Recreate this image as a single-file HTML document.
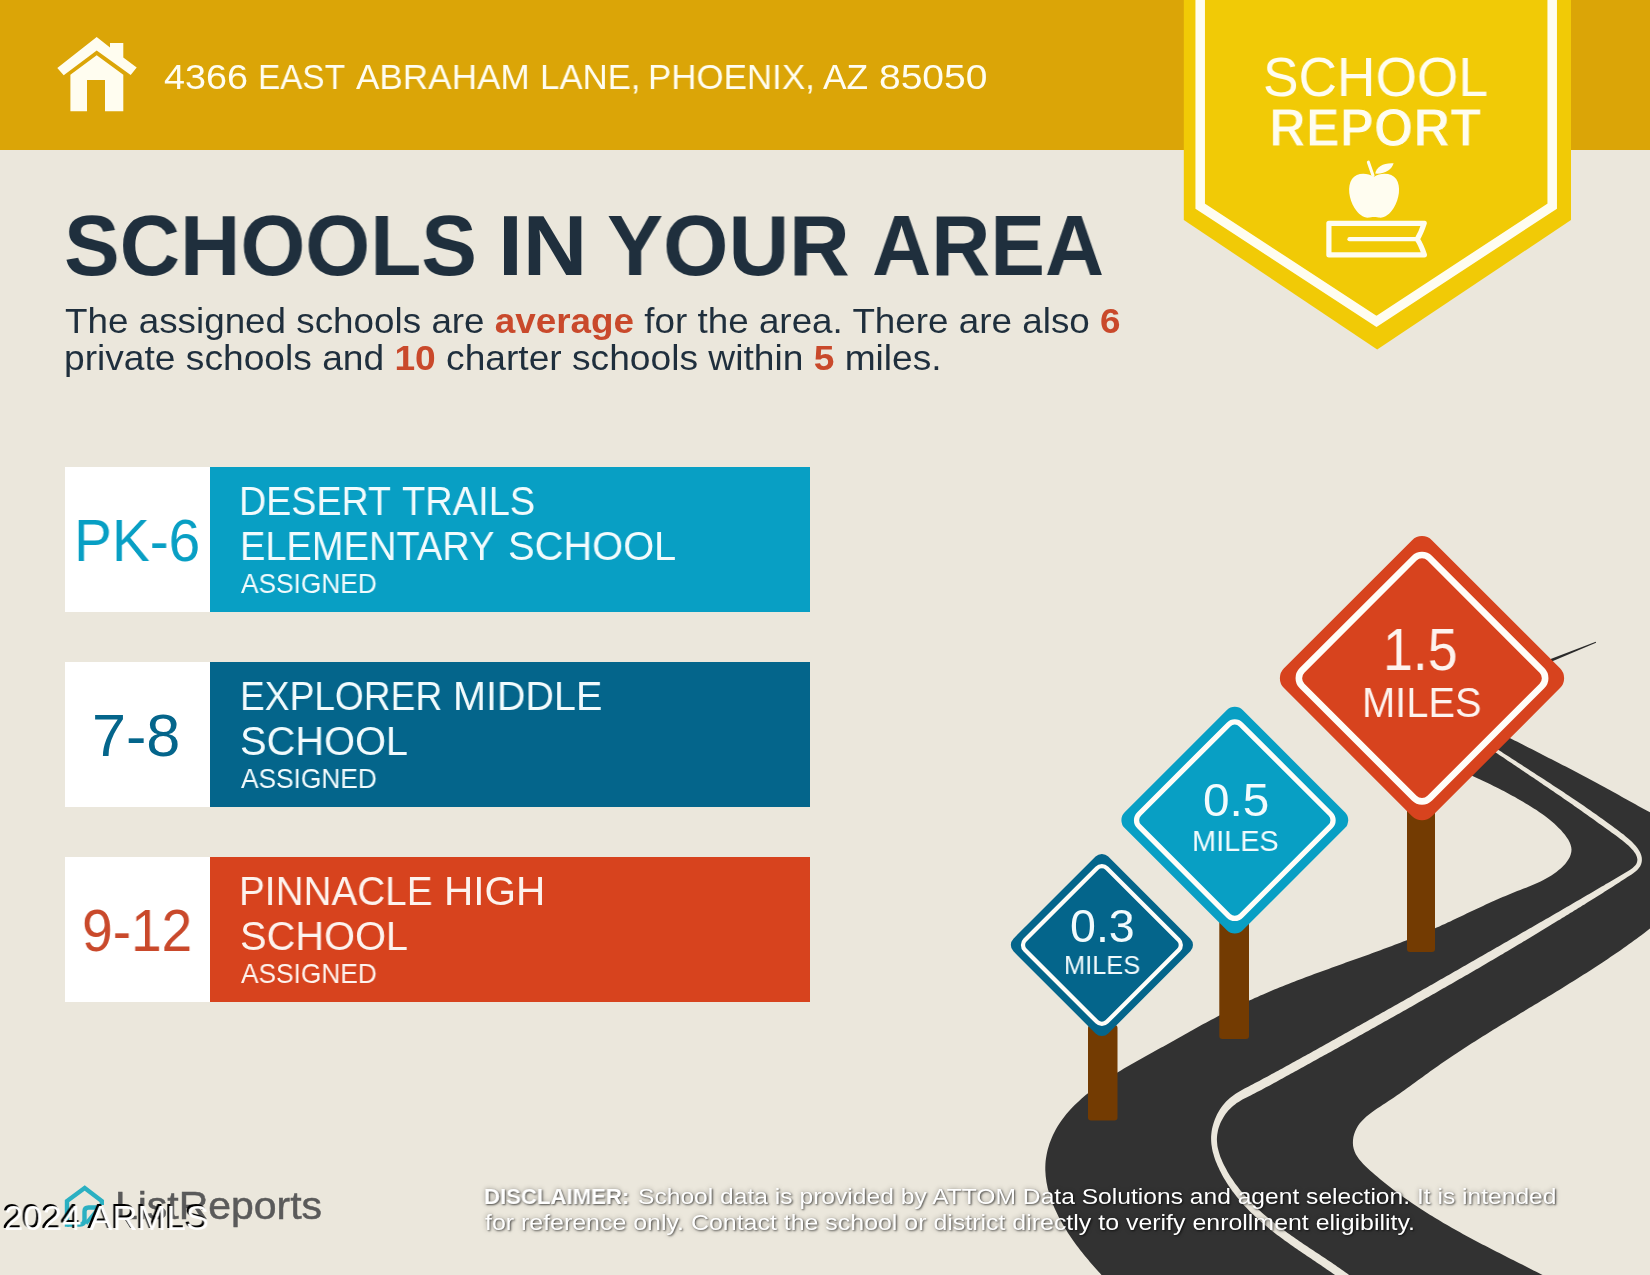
<!DOCTYPE html>
<html><head><meta charset="utf-8"><title>School Report</title>
<style>
html,body{margin:0;padding:0;}
body{width:1650px;height:1275px;overflow:hidden;background:#ebe7dc;position:relative;font-family:"Liberation Sans", sans-serif;}
.t{position:absolute;white-space:nowrap;line-height:1;transform-origin:0 0;font-family:"Liberation Sans", sans-serif;will-change:transform;}
svg{position:absolute;left:0;top:0;}
b{font-weight:700}
</style></head><body>
<svg width="1650" height="1275" viewBox="0 0 1650 1275">
<rect width="1650" height="1275" fill="#ebe7dc"/>
<rect width="1650" height="150" fill="#dba507"/>
<polygon points="1183.8,0 1571,0 1571,220 1377.2,349.5 1183.8,220" fill="#f1ca06"/>
<polyline points="1200.2,-5 1200.2,206.2 1376.5,321.4 1552.2,206.2 1552.2,-5" fill="none" stroke="#fffdf0" stroke-width="9.5" stroke-linejoin="miter"/>
<g fill="#fffdf0"><polygon points="96.7,37 110,47.5 110,43 123.3,43 123.3,57.5 136.7,67.5 130.7,75 96.7,50.4 63.7,75.3 57.3,68"/><path d="M96.7,55.3 L123.3,74.7 L123.3,111.3 L105,111.3 L105,80 L87,80 L87,111.3 L70.4,111.3 L70.4,74.7 Z"/></g>
<g fill="#fffdf0"><path d="M1373.8,177 C1367,172.3 1356.5,172.5 1352,179 C1347,186.5 1349,199 1354.5,208 C1358.5,214.5 1364.5,218.6 1369.5,217.6 C1372,217.1 1373,217 1374.1,217 C1375.2,217 1376.2,217.1 1378.7,217.6 C1383.7,218.6 1389.7,214.5 1393.7,208 C1399.2,199 1401.2,186.5 1396.2,179 C1391.7,172.5 1380.6,172.3 1373.8,177 Z"/><path d="M1375.2,173.6 C1376.5,166.5 1384,162.6 1393.6,163.3 C1392,169.5 1385.5,174.2 1375.2,173.6 Z"/></g><path d="M1373,175.5 L1368.4,162.2" stroke="#fffdf0" stroke-width="3.1" stroke-linecap="round" fill="none"/><path d="M1424.2,223.3 L1328.9,223.3 L1328.9,254.8 L1424.4,254.8 Q1421,245 1417.3,239.2 Q1421,233 1424.2,223.3 Z" fill="none" stroke="#fffdf0" stroke-width="5.2" stroke-linejoin="round"/><path d="M1349.5,239.2 L1417,239.2" stroke="#fffdf0" stroke-width="4.3" stroke-linecap="round"/>
<rect x="65" y="467" width="145" height="145" fill="#ffffff"/>
<rect x="210" y="467" width="600" height="145" fill="#089fc4"/>
<rect x="65" y="662" width="145" height="145" fill="#ffffff"/>
<rect x="210" y="662" width="600" height="145" fill="#04658b"/>
<rect x="65" y="857" width="145" height="145" fill="#ffffff"/>
<rect x="210" y="857" width="600" height="145" fill="#d7431e"/>
<polygon points="1550,659.3 1595.8,641.7 1596,642.8 1550,662.2" fill="#2a2a2a"/>
<path d="M1426.7,757.3 1429.7,758.4 1432.6,759.6 1435.6,760.7 1438.5,761.9 1441.4,763.0 1444.3,764.2 1447.1,765.3 1449.9,766.5 1452.8,767.6 1455.6,768.8 1458.3,769.9 1461.1,771.1 1463.9,772.3 1466.6,773.5 1469.3,774.6 1472.0,775.8 1474.7,777.0 1477.4,778.3 1480.1,779.5 1482.8,780.8 1485.5,782.0 1488.2,783.3 1490.8,784.6 1493.5,785.9 1496.2,787.2 1498.8,788.6 1501.5,790.0 1504.2,791.3 1506.9,792.8 1509.5,794.2 1512.2,795.7 1514.9,797.1 1517.6,798.7 1520.3,800.2 1523.0,801.8 1525.7,803.4 1528.4,805.0 1531.1,806.7 1533.8,808.4 1536.5,810.1 1539.1,811.9 1541.8,813.7 1544.3,815.6 1546.9,817.5 1549.4,819.5 1551.8,821.5 1554.2,823.6 1556.5,825.7 1558.7,827.9 1560.9,830.1 1562.9,832.4 1564.9,834.8 1566.6,837.2 1568.2,839.6 1569.5,842.1 1570.5,844.5 1571.2,847.0 1571.5,849.5 1571.3,852.0 1570.7,854.5 1569.8,856.9 1568.5,859.3 1567.0,861.6 1565.2,863.9 1563.2,866.1 1561.0,868.2 1558.7,870.1 1556.4,872.0 1553.9,873.8 1551.4,875.5 1548.8,877.1 1546.1,878.6 1543.4,880.0 1540.6,881.4 1537.8,882.7 1534.9,884.0 1532.0,885.3 1529.0,886.5 1526.1,887.7 1523.1,888.8 1520.2,890.0 1517.2,891.1 1514.3,892.3 1511.3,893.5 1508.4,894.7 1505.5,895.9 1502.7,897.1 1499.8,898.3 1497.0,899.6 1494.2,900.8 1491.3,902.1 1488.6,903.3 1485.8,904.6 1483.0,905.9 1480.3,907.2 1477.5,908.5 1474.8,909.7 1472.0,911.0 1469.3,912.3 1466.6,913.6 1463.9,914.9 1461.2,916.2 1458.4,917.5 1455.7,918.8 1453.0,920.1 1450.3,921.4 1447.6,922.6 1444.9,923.9 1442.1,925.1 1439.4,926.4 1436.7,927.6 1433.9,928.8 1431.2,930.1 1428.4,931.3 1425.6,932.4 1422.9,933.6 1420.1,934.8 1417.3,935.9 1414.5,937.1 1411.7,938.2 1408.9,939.3 1406.1,940.4 1403.2,941.6 1400.4,942.7 1397.6,943.7 1394.7,944.8 1391.9,945.9 1389.0,947.0 1386.2,948.1 1383.3,949.1 1380.5,950.2 1377.6,951.2 1374.7,952.3 1371.9,953.3 1369.0,954.4 1366.1,955.4 1363.2,956.4 1360.4,957.5 1357.5,958.5 1354.6,959.5 1351.7,960.6 1348.8,961.6 1345.9,962.6 1343.0,963.7 1340.2,964.7 1337.3,965.7 1334.4,966.8 1331.5,967.8 1328.6,968.9 1325.7,969.9 1322.8,970.9 1320.0,972.0 1317.1,973.0 1314.2,974.1 1311.3,975.2 1308.5,976.2 1305.6,977.3 1302.7,978.4 1299.9,979.5 1297.0,980.6 1294.1,981.7 1291.3,982.8 1288.4,983.9 1285.6,985.0 1282.8,986.2 1279.9,987.3 1277.1,988.5 1274.3,989.6 1271.5,990.8 1268.7,992.0 1265.9,993.2 1263.1,994.4 1260.3,995.6 1257.5,996.9 1254.7,998.1 1251.9,999.4 1249.2,1000.6 1246.4,1001.9 1243.7,1003.2 1241.0,1004.6 1238.2,1005.9 1235.5,1007.2 1232.8,1008.6 1230.1,1010.0 1227.4,1011.3 1224.7,1012.7 1222.0,1014.1 1219.3,1015.5 1216.6,1016.9 1214.0,1018.4 1211.3,1019.8 1208.6,1021.2 1206.0,1022.7 1203.3,1024.1 1200.6,1025.6 1198.0,1027.1 1195.3,1028.5 1192.7,1030.0 1190.0,1031.5 1187.4,1033.0 1184.7,1034.5 1182.1,1035.9 1179.4,1037.4 1176.7,1038.9 1174.1,1040.4 1171.4,1041.9 1168.8,1043.4 1166.1,1044.9 1163.5,1046.4 1160.8,1047.8 1158.1,1049.3 1155.4,1050.8 1152.8,1052.3 1150.1,1053.8 1147.4,1055.2 1144.7,1056.7 1142.1,1058.2 1139.4,1059.7 1136.7,1061.2 1134.1,1062.7 1131.4,1064.2 1128.8,1065.8 1126.1,1067.3 1123.5,1068.8 1120.9,1070.4 1118.3,1072.0 1115.7,1073.6 1113.1,1075.2 1110.5,1076.9 1108.0,1078.5 1105.5,1080.2 1102.9,1082.0 1100.5,1083.7 1098.0,1085.5 1095.5,1087.3 1093.1,1089.1 1090.7,1091.0 1088.3,1092.9 1086.0,1094.8 1083.7,1096.8 1081.4,1098.8 1079.1,1100.9 1076.9,1103.0 1074.7,1105.1 1072.5,1107.3 1070.4,1109.5 1068.4,1111.8 1066.4,1114.1 1064.5,1116.5 1062.6,1118.9 1060.8,1121.4 1059.1,1124.0 1057.5,1126.6 1055.9,1129.3 1054.5,1132.0 1053.1,1134.8 1051.9,1137.6 1050.7,1140.5 1049.6,1143.3 1048.7,1146.3 1047.8,1149.2 1047.1,1152.2 1046.5,1155.2 1046.0,1158.2 1045.6,1161.2 1045.4,1164.2 1045.3,1167.2 1045.3,1170.2 1045.5,1173.3 1045.7,1176.3 1046.1,1179.3 1046.5,1182.2 1047.1,1185.2 1047.7,1188.2 1048.5,1191.1 1049.3,1194.1 1050.3,1197.0 1051.3,1199.9 1052.3,1202.8 1053.5,1205.7 1054.7,1208.5 1056.0,1211.3 1057.3,1214.1 1058.7,1216.9 1060.2,1219.6 1061.7,1222.3 1063.2,1225.0 1064.8,1227.7 1066.4,1230.3 1068.0,1232.9 1069.7,1235.4 1071.4,1237.9 1073.1,1240.4 1074.9,1242.9 1076.7,1245.4 1078.5,1247.8 1080.3,1250.2 1082.2,1252.6 1084.1,1254.9 1086.0,1257.3 1088.0,1259.6 1089.9,1261.9 1091.9,1264.2 1093.9,1266.5 1095.9,1268.8 1097.9,1271.0 1100.0,1273.3 1102.0,1275.5 1104.1,1277.8 1106.1,1280.0 1108.2,1282.2 1110.3,1284.4 1112.4,1286.7 1114.5,1288.9 1116.6,1291.1 1118.7,1293.3 1120.8,1295.6 1122.9,1297.8 1125.0,1300.0 L1589.8,1300.5 1587.0,1298.9 1584.2,1297.3 1581.4,1295.8 1578.6,1294.2 1575.8,1292.7 1573.0,1291.1 1570.2,1289.6 1567.4,1288.1 1564.6,1286.6 1561.8,1285.0 1559.0,1283.6 1556.2,1282.1 1553.3,1280.6 1550.5,1279.1 1547.7,1277.6 1544.9,1276.2 1542.0,1274.7 1539.2,1273.3 1536.3,1271.8 1533.5,1270.4 1530.7,1268.9 1527.8,1267.5 1525.0,1266.1 1522.1,1264.6 1519.3,1263.2 1516.4,1261.7 1513.6,1260.3 1510.8,1258.9 1507.9,1257.4 1505.1,1256.0 1502.2,1254.6 1499.4,1253.1 1496.6,1251.7 1493.7,1250.2 1490.9,1248.8 1488.1,1247.3 1485.3,1245.8 1482.4,1244.4 1479.6,1242.9 1476.8,1241.4 1474.0,1239.9 1471.2,1238.4 1468.4,1236.9 1465.6,1235.4 1462.8,1233.9 1460.0,1232.3 1457.2,1230.8 1454.5,1229.2 1451.7,1227.7 1448.9,1226.1 1446.2,1224.5 1443.4,1222.9 1440.7,1221.3 1437.9,1219.6 1435.2,1218.0 1432.5,1216.3 1429.8,1214.7 1427.1,1213.0 1424.4,1211.3 1421.7,1209.5 1419.0,1207.8 1416.4,1206.0 1413.7,1204.2 1411.1,1202.4 1408.4,1200.6 1405.8,1198.8 1403.2,1196.9 1400.6,1195.0 1398.0,1193.1 1395.4,1191.2 1392.8,1189.3 1390.3,1187.3 1387.7,1185.3 1385.2,1183.3 1382.7,1181.3 1380.2,1179.2 1377.7,1177.1 1375.2,1175.0 1372.7,1172.8 1370.3,1170.7 1367.9,1168.5 1365.5,1166.2 1363.2,1163.9 1361.1,1161.6 1359.1,1159.2 1357.4,1156.7 1355.8,1154.2 1354.6,1151.5 1353.7,1148.8 1353.1,1145.9 1352.9,1143.0 1353.0,1140.0 1353.4,1137.1 1354.2,1134.1 1355.2,1131.2 1356.5,1128.5 1358.0,1125.8 1359.8,1123.3 1361.9,1120.9 1364.1,1118.7 1366.4,1116.5 1369.0,1114.4 1371.6,1112.4 1374.3,1110.4 1377.1,1108.5 1380.0,1106.7 1382.8,1104.8 1385.7,1103.0 1388.5,1101.1 1391.3,1099.3 1394.0,1097.4 1396.7,1095.6 1399.4,1093.7 1402.1,1091.8 1404.7,1089.9 1407.3,1088.1 1409.9,1086.2 1412.5,1084.3 1415.0,1082.5 1417.6,1080.6 1420.1,1078.7 1422.7,1076.9 1425.2,1075.0 1427.8,1073.2 1430.3,1071.3 1432.9,1069.5 1435.4,1067.7 1438.0,1065.9 1440.6,1064.1 1443.2,1062.3 1445.8,1060.5 1448.4,1058.7 1451.0,1057.0 1453.6,1055.2 1456.3,1053.5 1458.9,1051.7 1461.6,1050.0 1464.2,1048.3 1466.9,1046.5 1469.5,1044.8 1472.2,1043.1 1474.9,1041.4 1477.5,1039.7 1480.2,1038.0 1482.9,1036.3 1485.6,1034.7 1488.3,1033.0 1491.0,1031.3 1493.7,1029.6 1496.4,1028.0 1499.1,1026.3 1501.9,1024.6 1504.6,1023.0 1507.3,1021.3 1510.0,1019.7 1512.8,1018.0 1515.5,1016.4 1518.2,1014.7 1520.9,1013.1 1523.7,1011.4 1526.4,1009.8 1529.1,1008.1 1531.9,1006.5 1534.6,1004.8 1537.4,1003.2 1540.1,1001.5 1542.8,999.8 1545.6,998.2 1548.3,996.5 1551.0,994.9 1553.8,993.2 1556.5,991.5 1559.2,989.9 1562.0,988.2 1564.7,986.5 1567.4,984.8 1570.1,983.1 1572.8,981.5 1575.6,979.8 1578.3,978.1 1581.0,976.3 1583.7,974.6 1586.4,972.9 1589.1,971.2 1591.8,969.5 1594.4,967.7 1597.1,966.0 1599.8,964.2 1602.5,962.5 1605.1,960.7 1607.8,958.9 1610.4,957.1 1613.1,955.3 1615.7,953.5 1618.4,951.7 1621.0,949.9 1623.6,948.0 1626.2,946.2 1628.8,944.3 1631.4,942.5 1634.0,940.6 1636.6,938.7 1639.2,936.8 1641.7,934.9 1644.3,932.9 1646.8,931.0 1649.3,929.1 1651.9,927.1 1654.4,925.1 1656.9,923.1 1659.4,921.1 1661.9,919.1 1664.3,917.0 1666.8,915.0 1669.2,912.9 1671.7,910.8 1674.1,908.7 1676.5,906.6 1678.9,904.5 1681.3,902.3 1683.7,900.2 1686.0,898.0 1688.3,895.8 1690.6,893.5 1692.7,891.2 1694.7,888.9 1696.6,886.5 1698.2,884.0 1699.6,881.4 1700.8,878.8 1701.6,876.0 1702.2,873.2 1702.4,870.2 1702.3,867.1 1701.8,864.0 1701.1,860.8 1700.1,857.6 1698.9,854.5 1697.5,851.3 1695.8,848.3 1694.0,845.3 1692.0,842.4 1689.9,839.7 1687.7,837.2 1685.3,834.8 1682.9,832.5 1680.4,830.4 1677.8,828.4 1675.1,826.4 1672.4,824.6 1669.6,822.9 1666.8,821.2 1663.9,819.6 1661.0,818.0 1658.1,816.5 1655.2,814.9 1652.4,813.4 1649.5,811.9 1646.6,810.4 1643.8,808.9 1641.0,807.4 1638.2,805.9 1635.4,804.3 1632.6,802.8 1629.8,801.3 1627.1,799.7 1624.3,798.2 1621.6,796.7 1618.8,795.1 1616.1,793.6 1613.3,792.1 1610.6,790.5 1607.8,789.0 1605.1,787.5 1602.3,786.0 1599.5,784.5 1596.8,783.0 1594.0,781.5 1591.2,780.0 1588.4,778.5 1585.6,777.0 1582.7,775.5 1579.9,774.0 1577.1,772.5 1574.3,771.1 1571.5,769.6 1568.6,768.1 1565.8,766.6 1562.9,765.2 1560.1,763.7 1557.3,762.3 1554.4,760.8 1551.6,759.3 1548.7,757.9 1545.9,756.4 1543.0,755.0 1540.2,753.5 1537.3,752.1 1534.5,750.6 1531.6,749.1 1528.8,747.7 1525.9,746.2 1523.1,744.8 1520.2,743.3 1517.4,741.8 1514.5,740.4 1511.7,738.9 1508.9,737.4 1506.0,736.0 1503.2,734.5 1500.4,733.0 1497.6,731.5 1494.8,730.0 1492.0,728.6 1489.2,727.1 1486.4,725.6 1483.6,724.1 1480.8,722.6 1478.0,721.0 Z" fill="#323232"/>
<path d="M1466.2,732.4 1468.1,733.7 1470.0,735.0 1471.8,736.3 1473.7,737.6 1475.7,738.9 1477.6,740.2 1479.5,741.5 1481.5,742.8 1483.4,744.2 1485.4,745.5 1487.4,746.8 1489.3,748.2 1491.3,749.5 1493.3,750.9 1495.3,752.2 1497.3,753.6 1499.3,754.9 1501.3,756.3 1503.4,757.6 1505.4,759.0 1507.4,760.4 1509.4,761.7 1511.5,763.1 1513.5,764.4 1515.5,765.8 1517.6,767.2 1519.6,768.6 1521.6,769.9 1523.6,771.3 1525.7,772.7 1527.7,774.0 1529.7,775.4 1531.7,776.7 1533.8,778.1 1535.8,779.5 1537.8,780.8 1539.8,782.2 1541.8,783.5 1543.7,784.9 1545.7,786.2 1547.7,787.6 1549.7,788.9 1551.6,790.2 1553.6,791.6 1555.5,792.9 1557.4,794.2 1559.4,795.5 1561.3,796.8 1563.2,798.2 1565.0,799.5 1566.9,800.8 1568.8,802.0 1570.6,803.3 1572.5,804.6 1574.3,805.9 1576.2,807.2 1578.0,808.5 1579.9,809.8 1581.7,811.1 1583.6,812.4 1585.4,813.7 1587.3,815.1 1589.2,816.4 1591.1,817.8 1593.0,819.1 1595.0,820.5 1596.9,821.9 1598.9,823.4 1600.9,824.8 1603.0,826.3 1605.0,827.8 1607.1,829.3 1609.3,830.8 1611.5,832.4 1613.7,834.0 1615.9,835.6 1618.1,837.2 1620.3,838.9 1622.4,840.5 1624.5,842.2 1626.5,843.9 1628.4,845.5 1630.1,847.2 1631.7,848.9 1633.2,850.6 1634.4,852.2 1635.5,853.8 1636.3,855.4 1636.9,856.9 1637.2,858.4 1637.4,859.8 1637.2,861.2 1636.9,862.6 1636.3,864.0 1635.4,865.3 1634.1,866.6 1632.6,867.9 1630.9,869.2 1629.0,870.4 1626.9,871.7 1624.8,873.0 1622.7,874.2 1620.6,875.5 1618.5,876.7 1616.4,878.0 1614.3,879.2 1612.2,880.4 1610.1,881.7 1608.0,882.9 1605.9,884.1 1603.9,885.4 1601.8,886.6 1599.7,887.8 1597.6,889.0 1595.5,890.2 1593.5,891.4 1591.4,892.7 1589.3,893.9 1587.3,895.1 1585.2,896.3 1583.1,897.5 1581.1,898.7 1579.0,899.9 1577.0,901.1 1574.9,902.3 1572.8,903.5 1570.8,904.7 1568.7,905.9 1566.7,907.1 1564.6,908.3 1562.5,909.5 1560.5,910.7 1558.4,911.9 1556.4,913.1 1554.3,914.3 1552.2,915.5 1550.2,916.7 1548.1,917.9 1546.0,919.1 1544.0,920.3 1541.9,921.5 1539.9,922.6 1537.8,923.8 1535.7,925.0 1533.6,926.2 1531.6,927.4 1529.5,928.6 1527.4,929.8 1525.4,931.0 1523.3,932.1 1521.2,933.3 1519.2,934.5 1517.1,935.7 1515.0,936.9 1513.0,938.1 1510.9,939.3 1508.8,940.5 1506.8,941.7 1504.7,942.8 1502.6,944.0 1500.6,945.2 1498.5,946.4 1496.4,947.6 1494.4,948.8 1492.3,950.0 1490.2,951.2 1488.1,952.3 1486.1,953.5 1484.0,954.7 1481.9,955.9 1479.9,957.1 1477.8,958.3 1475.7,959.5 1473.6,960.7 1471.6,961.8 1469.5,963.0 1467.4,964.2 1465.4,965.4 1463.3,966.6 1461.2,967.8 1459.2,969.0 1457.1,970.2 1455.0,971.3 1452.9,972.5 1450.9,973.7 1448.8,974.9 1446.7,976.1 1444.7,977.3 1442.6,978.5 1440.5,979.6 1438.4,980.8 1436.4,982.0 1434.3,983.2 1432.2,984.4 1430.1,985.6 1428.1,986.7 1426.0,987.9 1423.9,989.1 1421.8,990.3 1419.8,991.5 1417.7,992.6 1415.6,993.8 1413.5,995.0 1411.5,996.2 1409.4,997.4 1407.3,998.5 1405.2,999.7 1403.2,1000.9 1401.1,1002.1 1399.0,1003.2 1396.9,1004.4 1394.9,1005.6 1392.8,1006.7 1390.7,1007.9 1388.6,1009.1 1386.5,1010.3 1384.5,1011.4 1382.4,1012.6 1380.3,1013.8 1378.2,1014.9 1376.1,1016.1 1374.1,1017.3 1372.0,1018.4 1369.9,1019.6 1367.8,1020.8 1365.7,1021.9 1363.7,1023.1 1361.6,1024.3 1359.5,1025.4 1357.4,1026.6 1355.3,1027.8 1353.2,1028.9 1351.2,1030.1 1349.1,1031.3 1347.0,1032.4 1344.9,1033.6 1342.8,1034.8 1340.7,1035.9 1338.7,1037.1 1336.6,1038.2 1334.5,1039.4 1332.4,1040.6 1330.3,1041.7 1328.2,1042.9 1326.2,1044.1 1324.1,1045.2 1322.0,1046.4 1319.9,1047.6 1317.8,1048.7 1315.7,1049.9 1313.6,1051.0 1311.6,1052.2 1309.5,1053.4 1307.4,1054.5 1305.3,1055.7 1303.2,1056.8 1301.1,1058.0 1299.0,1059.2 1296.9,1060.3 1294.8,1061.5 1292.8,1062.6 1290.7,1063.8 1288.6,1064.9 1286.5,1066.1 1284.4,1067.2 1282.3,1068.4 1280.2,1069.5 1278.1,1070.7 1276.0,1071.8 1273.9,1073.0 1271.8,1074.1 1269.7,1075.2 1267.6,1076.4 1265.5,1077.5 1263.4,1078.6 1261.3,1079.7 1259.2,1080.9 1257.1,1082.0 1255.0,1083.1 1252.9,1084.2 1250.8,1085.3 1248.7,1086.4 1246.6,1087.5 1244.5,1088.6 1242.4,1089.8 1240.2,1091.0 1238.1,1092.2 1236.0,1093.5 1233.9,1094.9 1231.9,1096.4 1229.9,1098.0 1228.0,1099.7 1226.1,1101.6 1224.4,1103.5 1222.7,1105.5 1221.2,1107.6 1219.7,1109.8 1218.4,1112.0 1217.1,1114.3 1216.0,1116.7 1215.0,1119.1 1214.1,1121.5 1213.3,1124.0 1212.6,1126.5 1212.0,1129.1 1211.6,1131.6 1211.3,1134.2 1211.1,1136.7 1211.1,1139.3 1211.2,1141.8 1211.4,1144.3 1211.8,1146.8 1212.2,1149.3 1212.7,1151.7 1213.4,1154.1 1214.1,1156.5 1214.9,1158.9 1215.7,1161.3 1216.7,1163.6 1217.7,1165.9 1218.7,1168.1 1219.8,1170.4 1220.9,1172.6 1222.0,1174.7 1223.2,1176.9 1224.4,1179.0 1225.7,1181.1 1227.0,1183.2 1228.3,1185.2 1229.7,1187.2 1231.0,1189.2 1232.4,1191.2 1233.9,1193.1 1235.4,1195.0 1236.9,1196.9 1238.4,1198.8 1239.9,1200.6 1241.5,1202.4 1243.1,1204.2 1244.7,1206.0 1246.4,1207.7 1248.1,1209.5 1249.7,1211.2 1251.5,1212.9 1253.2,1214.5 1254.9,1216.2 1256.7,1217.8 1258.5,1219.5 1260.3,1221.1 1262.1,1222.7 1264.0,1224.2 1265.8,1225.8 1267.7,1227.3 1269.6,1228.9 1271.5,1230.4 1273.4,1231.9 1275.3,1233.4 1277.2,1234.9 1279.1,1236.3 1281.1,1237.8 1283.1,1239.2 1285.0,1240.7 1287.0,1242.1 1289.0,1243.5 1291.0,1244.9 1292.9,1246.3 1294.9,1247.7 1296.9,1249.1 1298.9,1250.5 1300.9,1251.8 1303.0,1253.2 1305.0,1254.6 1307.0,1255.9 1309.0,1257.3 1311.0,1258.6 1313.0,1260.0 1315.0,1261.3 1317.0,1262.7 1319.0,1264.0 1321.0,1265.3 1323.0,1266.7 1324.9,1268.0 1326.9,1269.4 1328.9,1270.7 1330.8,1272.1 1332.8,1273.4 1334.7,1274.8 1336.7,1276.1 1338.6,1277.5 1340.5,1278.8 1342.4,1280.2 1344.3,1281.6 1346.2,1282.9 1348.0,1284.3 1349.9,1285.7 1351.7,1287.1 1353.5,1288.5 1355.3,1289.9 1357.1,1291.3 L1362.2,1284.9 1360.4,1283.5 1358.5,1282.0 1356.7,1280.6 1354.8,1279.2 1352.9,1277.7 1351.0,1276.3 1349.1,1274.9 1347.2,1273.5 1345.3,1272.2 1343.3,1270.8 1341.4,1269.4 1339.4,1268.0 1337.4,1266.7 1335.5,1265.3 1333.5,1264.0 1331.5,1262.6 1329.5,1261.3 1327.5,1260.0 1325.5,1258.6 1323.5,1257.3 1321.5,1255.9 1319.5,1254.6 1317.5,1253.3 1315.4,1251.9 1313.4,1250.6 1311.4,1249.3 1309.4,1247.9 1307.4,1246.6 1305.4,1245.2 1303.4,1243.9 1301.4,1242.5 1299.4,1241.2 1297.4,1239.8 1295.5,1238.5 1293.5,1237.1 1291.5,1235.7 1289.6,1234.3 1287.6,1232.9 1285.7,1231.5 1283.8,1230.1 1281.9,1228.7 1279.9,1227.3 1278.1,1225.8 1276.2,1224.4 1274.3,1222.9 1272.4,1221.5 1270.6,1220.0 1268.8,1218.5 1267.0,1217.0 1265.2,1215.5 1263.4,1213.9 1261.7,1212.4 1259.9,1210.8 1258.2,1209.2 1256.5,1207.6 1254.8,1206.0 1253.2,1204.4 1251.5,1202.8 1249.9,1201.1 1248.3,1199.4 1246.8,1197.7 1245.2,1196.0 1243.7,1194.3 1242.2,1192.5 1240.7,1190.7 1239.3,1188.9 1237.9,1187.1 1236.5,1185.3 1235.1,1183.4 1233.8,1181.5 1232.5,1179.6 1231.2,1177.7 1229.9,1175.7 1228.7,1173.7 1227.5,1171.7 1226.4,1169.6 1225.3,1167.6 1224.2,1165.5 1223.2,1163.4 1222.2,1161.2 1221.3,1159.1 1220.4,1156.9 1219.7,1154.7 1219.0,1152.5 1218.4,1150.3 1217.8,1148.1 1217.4,1145.9 1217.2,1143.7 1217.0,1141.4 1216.9,1139.2 1217.0,1137.0 1217.2,1134.8 1217.6,1132.6 1218.0,1130.3 1218.6,1128.1 1219.3,1126.0 1220.1,1123.8 1221.0,1121.7 1222.1,1119.7 1223.2,1117.7 1224.4,1115.7 1225.7,1113.8 1227.1,1112.0 1228.5,1110.3 1230.1,1108.7 1231.6,1107.2 1233.3,1105.7 1235.0,1104.4 1236.7,1103.1 1238.6,1101.9 1240.5,1100.7 1242.4,1099.6 1244.4,1098.5 1246.5,1097.5 1248.5,1096.4 1250.6,1095.4 1252.8,1094.3 1254.9,1093.2 1257.0,1092.1 1259.2,1091.0 1261.3,1089.9 1263.4,1088.8 1265.5,1087.6 1267.6,1086.5 1269.7,1085.4 1271.9,1084.2 1274.0,1083.1 1276.1,1081.9 1278.2,1080.8 1280.3,1079.6 1282.4,1078.5 1284.5,1077.3 1286.6,1076.1 1288.7,1075.0 1290.7,1073.8 1292.8,1072.7 1294.9,1071.5 1297.0,1070.4 1299.1,1069.2 1301.2,1068.0 1303.3,1066.9 1305.4,1065.7 1307.5,1064.6 1309.6,1063.4 1311.7,1062.3 1313.8,1061.1 1315.9,1060.0 1318.0,1058.8 1320.0,1057.6 1322.1,1056.5 1324.2,1055.3 1326.3,1054.2 1328.4,1053.0 1330.5,1051.9 1332.6,1050.7 1334.7,1049.6 1336.8,1048.4 1338.9,1047.2 1340.9,1046.1 1343.0,1044.9 1345.1,1043.8 1347.2,1042.6 1349.3,1041.4 1351.4,1040.3 1353.5,1039.1 1355.5,1037.9 1357.6,1036.8 1359.7,1035.6 1361.8,1034.5 1363.9,1033.3 1366.0,1032.1 1368.1,1031.0 1370.1,1029.8 1372.2,1028.6 1374.3,1027.5 1376.4,1026.3 1378.5,1025.1 1380.5,1024.0 1382.6,1022.8 1384.7,1021.6 1386.8,1020.4 1388.9,1019.3 1391.0,1018.1 1393.0,1016.9 1395.1,1015.8 1397.2,1014.6 1399.3,1013.4 1401.4,1012.2 1403.4,1011.1 1405.5,1009.9 1407.6,1008.7 1409.7,1007.5 1411.7,1006.4 1413.8,1005.2 1415.9,1004.0 1418.0,1002.8 1420.1,1001.6 1422.1,1000.5 1424.2,999.3 1426.3,998.1 1428.4,996.9 1430.4,995.7 1432.5,994.6 1434.6,993.4 1436.7,992.2 1438.7,991.0 1440.8,989.8 1442.9,988.6 1445.0,987.5 1447.0,986.3 1449.1,985.1 1451.2,983.9 1453.3,982.7 1455.3,981.5 1457.4,980.3 1459.5,979.1 1461.6,977.9 1463.6,976.8 1465.7,975.6 1467.8,974.4 1469.8,973.2 1471.9,972.0 1474.0,970.8 1476.0,969.6 1478.1,968.4 1480.2,967.2 1482.2,966.0 1484.3,964.8 1486.4,963.5 1488.4,962.3 1490.5,961.1 1492.5,959.9 1494.6,958.7 1496.7,957.5 1498.7,956.3 1500.8,955.1 1502.8,953.9 1504.9,952.6 1506.9,951.4 1509.0,950.2 1511.0,949.0 1513.1,947.8 1515.2,946.5 1517.2,945.3 1519.3,944.1 1521.3,942.9 1523.4,941.6 1525.4,940.4 1527.4,939.2 1529.5,937.9 1531.5,936.7 1533.6,935.5 1535.6,934.2 1537.7,933.0 1539.7,931.8 1541.7,930.5 1543.8,929.3 1545.8,928.1 1547.9,926.8 1549.9,925.6 1551.9,924.3 1554.0,923.1 1556.0,921.8 1558.0,920.6 1560.1,919.4 1562.1,918.1 1564.1,916.9 1566.2,915.6 1568.2,914.4 1570.2,913.1 1572.3,911.9 1574.3,910.6 1576.3,909.4 1578.4,908.1 1580.4,906.9 1582.4,905.6 1584.5,904.4 1586.5,903.1 1588.5,901.8 1590.6,900.6 1592.6,899.3 1594.7,898.0 1596.7,896.7 1598.7,895.5 1600.8,894.2 1602.8,892.9 1604.8,891.6 1606.9,890.3 1608.9,889.0 1611.0,887.7 1613.0,886.4 1615.1,885.1 1617.1,883.7 1619.2,882.4 1621.2,881.1 1623.3,879.8 1625.3,878.4 1627.4,877.1 1629.5,875.8 1631.6,874.4 1633.6,873.0 1635.5,871.5 1637.3,869.9 1638.9,868.1 1640.2,866.2 1641.1,864.2 1641.7,862.0 1641.9,859.9 1641.8,857.7 1641.3,855.6 1640.6,853.5 1639.6,851.5 1638.4,849.5 1637.0,847.5 1635.4,845.6 1633.7,843.7 1631.9,841.8 1629.9,840.0 1627.9,838.2 1625.7,836.4 1623.6,834.6 1621.3,832.9 1619.1,831.2 1616.9,829.6 1614.7,827.9 1612.5,826.3 1610.4,824.8 1608.3,823.2 1606.2,821.7 1604.2,820.3 1602.2,818.8 1600.2,817.4 1598.2,816.0 1596.3,814.6 1594.3,813.2 1592.4,811.9 1590.5,810.5 1588.6,809.2 1586.7,807.9 1584.8,806.6 1583.0,805.3 1581.1,804.0 1579.2,802.8 1577.4,801.5 1575.5,800.2 1573.6,799.0 1571.7,797.7 1569.9,796.4 1568.0,795.2 1566.0,793.9 1564.1,792.6 1562.2,791.3 1560.2,790.1 1558.3,788.8 1556.3,787.5 1554.3,786.2 1552.4,784.9 1550.4,783.6 1548.4,782.3 1546.4,781.0 1544.3,779.6 1542.3,778.3 1540.3,777.0 1538.2,775.7 1536.2,774.4 1534.2,773.1 1532.1,771.7 1530.1,770.4 1528.0,769.1 1526.0,767.8 1523.9,766.4 1521.9,765.1 1519.8,763.8 1517.7,762.5 1515.7,761.1 1513.6,759.8 1511.6,758.5 1509.5,757.1 1507.5,755.8 1505.4,754.5 1503.4,753.2 1501.4,751.8 1499.3,750.5 1497.3,749.2 1495.3,747.9 1493.3,746.6 1491.3,745.2 1489.3,743.9 1487.3,742.6 1485.3,741.3 1483.4,740.0 1481.4,738.7 1479.5,737.4 1477.5,736.1 1475.6,734.8 1473.7,733.6 1471.8,732.3 1469.9,731.0 1468.0,729.7 Z" fill="#ebe7dc"/>
<rect x="1407" y="800" width="28" height="152" rx="3" fill="#733b02"/>
<rect x="1219.3" y="920" width="29.7" height="119" rx="3" fill="#733b02"/>
<rect x="1088" y="1025" width="29.5" height="95.5" rx="3" fill="#733b02"/>
<g transform="translate(1422,678.2) rotate(45)"><rect x="-104.60" y="-104.60" width="209.20" height="209.20" rx="14.00" fill="#d7431e"/><rect x="-90.30" y="-90.30" width="180.60" height="180.60" rx="11.00" fill="none" stroke="#fffdf8" stroke-width="6.60"/></g>
<g transform="translate(1234.8,820.2) rotate(45)"><rect x="-83.46" y="-83.46" width="166.92" height="166.92" rx="11.17" fill="#089fc4"/><rect x="-72.05" y="-72.05" width="144.10" height="144.10" rx="8.78" fill="none" stroke="#fffdf8" stroke-width="5.27"/></g>
<g transform="translate(1101.9,945) rotate(45)"><rect x="-67.03" y="-67.03" width="134.06" height="134.06" rx="8.97" fill="#04658b"/><rect x="-57.87" y="-57.87" width="115.74" height="115.74" rx="7.05" fill="none" stroke="#fffdf8" stroke-width="4.23"/></g>
<g fill="none" stroke="#2bb0c2" stroke-width="4.4" stroke-linejoin="miter" stroke-linecap="butt"><path d="M67,1226.7 L67,1201 L84.7,1188 L101.8,1201 L101.8,1205"/><path d="M100,1207.5 L88.5,1207.5 Q84.5,1207.5 84.5,1211.5 L84.5,1220 Q84.5,1224.5 80,1224.5 L67,1224.5"/><path d="M98.8,1208 L86,1223.5" stroke-width="3.6"/></g>
</svg>
<div class="t" style="left:164.41px;top:59.40px;font-size:35.32px;font-weight:400;color:#fffdf0;transform:scaleX(1.0682);">4366</div>
<div class="t" style="left:257.80px;top:59.40px;font-size:35.32px;font-weight:400;color:#fffdf0;transform:scaleX(0.9429);">EAST</div>
<div class="t" style="left:356.40px;top:59.40px;font-size:35.32px;font-weight:400;color:#fffdf0;transform:scaleX(0.9944);">ABRAHAM</div>
<div class="t" style="left:539.99px;top:59.40px;font-size:35.32px;font-weight:400;color:#fffdf0;transform:scaleX(0.9838);">LANE,</div>
<div class="t" style="left:647.57px;top:59.40px;font-size:35.32px;font-weight:400;color:#fffdf0;transform:scaleX(0.9886);">PHOENIX,</div>
<div class="t" style="left:823.40px;top:59.40px;font-size:35.32px;font-weight:400;color:#fffdf0;transform:scaleX(0.9928);">AZ</div>
<div class="t" style="left:879.48px;top:59.40px;font-size:35.32px;font-weight:400;color:#fffdf0;transform:scaleX(1.1037);">85050</div>
<div class="t" style="left:1263.34px;top:50.21px;font-size:54.80px;font-weight:400;color:#fffdf0;transform:scaleX(0.9722);">SCHOOL</div>
<div class="t" style="left:1269.22px;top:100.70px;font-size:53.63px;font-weight:700;color:#fffdf0;transform:scaleX(0.9498);-webkit-text-stroke:1.1px #f1ca06;">REPORT</div>
<div class="t" style="left:63.90px;top:203.87px;font-size:84.74px;font-weight:700;color:#1f2f3d;transform:scaleX(0.9855);">SCHOOLS</div>
<div class="t" style="left:498.01px;top:203.87px;font-size:84.74px;font-weight:700;color:#1f2f3d;transform:scaleX(1.0559);">IN</div>
<div class="t" style="left:607.19px;top:203.87px;font-size:84.74px;font-weight:700;color:#1f2f3d;transform:scaleX(0.9918);">YOUR</div>
<div class="t" style="left:871.92px;top:203.87px;font-size:84.74px;font-weight:700;color:#1f2f3d;transform:scaleX(0.9660);">AREA</div>
<div class="t" style="left:65.42px;top:304.37px;font-size:34.88px;font-weight:400;color:#1f2f3d;transform:scaleX(1.0558);">The assigned schools are <b style="color:#c9492b">average</b> for the area. There are also <b style="color:#c9492b">6</b></div>
<div class="t" style="left:63.68px;top:341.07px;font-size:34.88px;font-weight:400;color:#1f2f3d;transform:scaleX(1.0653);">private schools and <b style="color:#c9492b">10</b> charter schools within <b style="color:#c9492b">5</b> miles.</div>
<div class="t" style="left:73.56px;top:511.15px;font-size:59.59px;font-weight:400;color:#089fc4;transform:scaleX(0.9531);">PK-6</div>
<div class="t" style="left:238.96px;top:481.89px;font-size:39.83px;font-weight:400;color:#f2fbfd;transform:scaleX(0.9449);">DESERT</div>
<div class="t" style="left:401.91px;top:481.89px;font-size:39.83px;font-weight:400;color:#f2fbfd;transform:scaleX(0.9552);">TRAILS</div>
<div class="t" style="left:239.53px;top:526.64px;font-size:40.12px;font-weight:400;color:#f2fbfd;transform:scaleX(0.9484);">ELEMENTARY</div>
<div class="t" style="left:507.55px;top:526.64px;font-size:40.12px;font-weight:400;color:#f2fbfd;transform:scaleX(0.9932);">SCHOOL</div>
<div class="t" style="left:241.00px;top:570.61px;font-size:27.03px;font-weight:400;color:#f2fbfd;transform:scaleX(0.9734);">ASSIGNED</div>
<div class="t" style="left:92.13px;top:705.85px;font-size:59.59px;font-weight:400;color:#04658b;transform:scaleX(1.0259);">7-8</div>
<div class="t" style="left:239.60px;top:676.89px;font-size:39.83px;font-weight:400;color:#f2fbfd;transform:scaleX(0.9321);">EXPLORER</div>
<div class="t" style="left:452.71px;top:676.89px;font-size:39.83px;font-weight:400;color:#f2fbfd;transform:scaleX(0.9918);">MIDDLE</div>
<div class="t" style="left:239.96px;top:721.64px;font-size:40.12px;font-weight:400;color:#f2fbfd;transform:scaleX(0.9920);">SCHOOL</div>
<div class="t" style="left:241.00px;top:765.61px;font-size:27.03px;font-weight:400;color:#f2fbfd;transform:scaleX(0.9734);">ASSIGNED</div>
<div class="t" style="left:82.22px;top:900.85px;font-size:59.59px;font-weight:400;color:#c9492b;transform:scaleX(0.9251);">9-12</div>
<div class="t" style="left:239.48px;top:871.89px;font-size:39.83px;font-weight:400;color:#fdf3ee;transform:scaleX(0.9711);">PINNACLE</div>
<div class="t" style="left:443.73px;top:871.89px;font-size:39.83px;font-weight:400;color:#fdf3ee;transform:scaleX(1.0180);">HIGH</div>
<div class="t" style="left:239.96px;top:916.64px;font-size:40.12px;font-weight:400;color:#fdf3ee;transform:scaleX(0.9920);">SCHOOL</div>
<div class="t" style="left:241.00px;top:960.61px;font-size:27.03px;font-weight:400;color:#fdf3ee;transform:scaleX(0.9734);">ASSIGNED</div>
<div class="t" style="left:1383.45px;top:619.91px;font-size:59.88px;font-weight:400;color:#fdf3ee;transform:scaleX(0.8952);">1.5</div>
<div class="t" style="left:1362.19px;top:681.43px;font-size:42.73px;font-weight:400;color:#fdf3ee;transform:scaleX(0.9320);">MILES</div>
<div class="t" style="left:1202.51px;top:777.57px;font-size:45.64px;font-weight:400;color:#f2fbfd;transform:scaleX(1.0455);">0.5</div>
<div class="t" style="left:1192.04px;top:826.15px;font-size:29.94px;font-weight:400;color:#f2fbfd;transform:scaleX(0.9658);">MILES</div>
<div class="t" style="left:1069.74px;top:904.22px;font-size:45.93px;font-weight:400;color:#f2fbfd;transform:scaleX(1.0141);">0.3</div>
<div class="t" style="left:1063.62px;top:952.13px;font-size:26.31px;font-weight:400;color:#f2fbfd;transform:scaleX(0.9649);">MILES</div>
<div class="t" style="left:114.80px;top:1186.00px;font-size:39.10px;font-weight:400;color:#5a5a5a;transform:scaleX(1.0477);-webkit-text-stroke:0.5px #5a5a5a;">ListReports</div>
<div class="t" style="left:483.91px;top:1185.73px;font-size:22.53px;font-weight:700;color:#ffffff;transform:scaleX(0.9852);text-shadow:1px 1px 2px rgba(0,0,0,.6),0 0 5px rgba(0,0,0,.35);">DISCLAIMER:</div>
<div class="t" style="left:637.93px;top:1185.73px;font-size:22.53px;font-weight:400;color:#ffffff;transform:scaleX(1.0931);text-shadow:1px 1px 2px rgba(0,0,0,.6),0 0 5px rgba(0,0,0,.35);">School data is provided by ATTOM Data Solutions and agent selection. It is intended</div>
<div class="t" style="left:485.30px;top:1211.93px;font-size:22.53px;font-weight:400;color:#ffffff;transform:scaleX(1.1070);text-shadow:1px 1px 2px rgba(0,0,0,.6),0 0 5px rgba(0,0,0,.35);">for reference only. Contact the school or district directly to verify enrollment eligibility.</div>
<div class="t" style="left:2.37px;top:1199.46px;font-size:35.61px;font-weight:400;color:#000000;transform:scaleX(0.9774);">2024 ARMLS</div>
<div class="t" style="left:3.57px;top:1200.66px;font-size:35.61px;font-weight:400;color:#ffffff;transform:scaleX(0.9774);">2024 ARMLS</div>
</body></html>
